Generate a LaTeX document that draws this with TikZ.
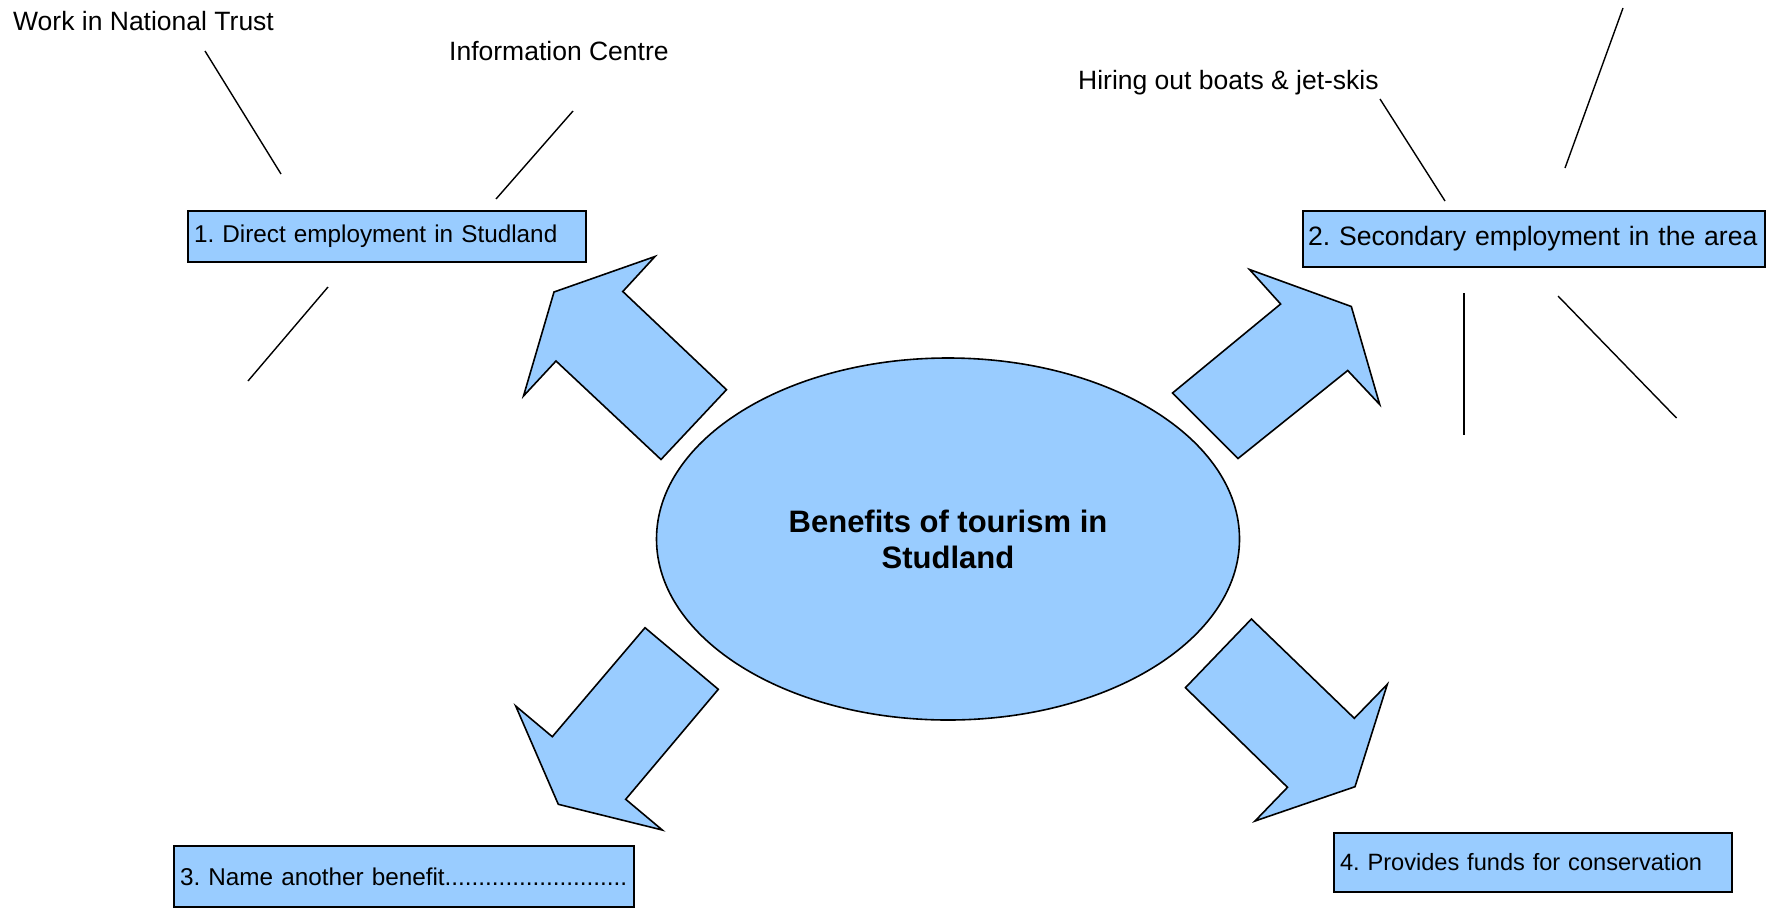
\documentclass[tikz,border=0pt]{standalone}
\usepackage{fontspec}
\setmainfont{Liberation Sans}
\usetikzlibrary{shapes.geometric}
\definecolor{paleblue}{HTML}{99CCFF}
\frenchspacing
\begin{document}
\begin{tikzpicture}[x=1pt,y=-1pt,line join=miter]
	\tikzset{every node/.style={inner sep=0pt},
		benefit/.style={draw,fill=paleblue,line width=1.6pt,align=left,inner xsep=6pt,
			font=\fontsize{24.3}{29}\selectfont},
		note/.style={anchor=base west,font=\fontsize{26.5}{31}\selectfont},
		spoke/.style={line width=1.4pt},
		bigarrow/.style={draw,fill=paleblue,line width=1.6pt}}
	\useasboundingbox (0,0) rectangle (1766,908);
	% centre
	\node[ellipse,draw,fill=paleblue,line width=1.6pt,minimum width=583,minimum height=362,
		align=center,font=\fontsize{31}{36}\bfseries] (hub) at (948,539) {Benefits of tourism in\\Studland};
	% the four benefits
	\node[benefit,minimum width=398,minimum height=51,text width=386] (direct) at (387,236.5)
		{\mbox{1. Direct employment in Studland}};
	\node[benefit,minimum width=462,minimum height=56,text width=452,inner xsep=5pt,
		font=\fontsize{26.6}{31}\selectfont] (secondary) at (1534,239)
		{\mbox{2. Secondary employment in the area}};
	\node[benefit,minimum width=460,minimum height=61,text width=448] (another) at (404,876.5)
		{\mbox{3. Name another benefit\foreach \d in {1,...,27}{.}}};
	\node[benefit,minimum width=398,minimum height=59,text width=386,
		font=\fontsize{23.6}{29}\selectfont] (funds) at (1533,862.5)
		{\mbox{4. Provides funds for conservation}};
	% block arrows out of the ellipse
	\draw[bigarrow] (726.5,389.7) -- (661,459.5) -- (556,361) -- (523.5,396) -- (554,292)
		-- (655,256.5) -- (622.8,291.5) -- cycle;
	\draw[bigarrow] (1172.5,393) -- (1280.6,304) -- (1249.5,269.5) -- (1351.3,306.5)
		-- (1379.7,404.5) -- (1347.7,370.5) -- (1238,458.5) -- cycle;
	\draw[bigarrow] (645,627.7) -- (718.3,689.3) -- (625.7,799.3) -- (662.3,830)
		-- (558.3,804.3) -- (515.7,706) -- (552.3,736.7) -- cycle;
	\draw[bigarrow] (1251.4,619) -- (1354.3,718.3) -- (1387.3,684.3) -- (1355,786.7)
		-- (1255,821) -- (1287.5,787.3) -- (1185.4,687.7) -- cycle;
	% examples
	\node[note] (trust) at (13,30) {Work in National Trust};
	\node[note] (info) at (449,60) {Information Centre};
	\node[note] (boats) at (1078,89) {Hiring out boats \& jet-skis};
	% spokes
	\coordinate (t1) at (205,51);   \coordinate (t2) at (281,174);
	\coordinate (i1) at (573,111);  \coordinate (i2) at (496,199);
	\coordinate (d1) at (328,287);  \coordinate (d2) at (248,381);
	\coordinate (s1) at (1623,8);   \coordinate (s2) at (1565,168);
	\coordinate (h1) at (1380,99);  \coordinate (h2) at (1445,201);
	\coordinate (v1) at (1464,293); \coordinate (v2) at (1464,435);
	\coordinate (g1) at (1558,296); \coordinate (g2) at (1676.5,418);
	\foreach \a/\b in {t1/t2,i1/i2,d1/d2,s1/s2,h1/h2,v1/v2,g1/g2}
	\draw[spoke] (\a)--(\b);
\end{tikzpicture}
\end{document}
